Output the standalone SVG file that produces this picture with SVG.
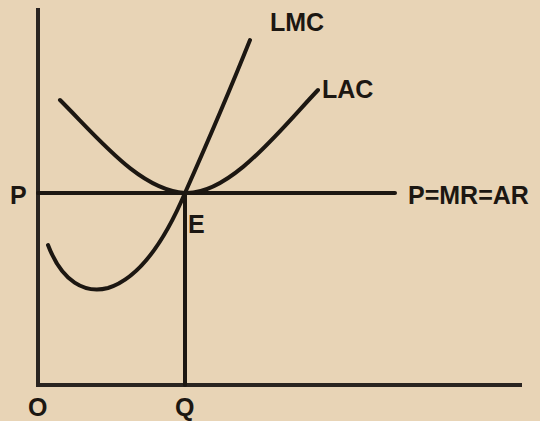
<svg xmlns="http://www.w3.org/2000/svg" width="540" height="421" viewBox="0 0 540 421">
<style>
.ln{fill:none;stroke:#1c1712;stroke-width:4;stroke-linecap:round}
.ax{fill:none;stroke:#2a2420;stroke-width:4}
.t{font-family:"Liberation Sans",Arial,sans-serif;font-weight:bold;font-size:25px;fill:#1c1712}
</style>
<rect width="540" height="421" fill="#e8d4b6"/>
<g id="connectors">
<path class="ax" d="M38,8 V385 H522"/>
<path class="ln" d="M38,193 H395"/>
<path class="ln" d="M185,193 V385"/>
</g>
<g id="LMC">
<path class="ln" d="M48,245 C62,282 85,294 108,288 C140,278 165,240 185,193 C205,148 228,95 250,40"/>
<text class="t" x="270" y="31">LMC</text>
</g>
<g id="LAC">
<path class="ln" d="M60,100 C100,140 140,190 185,193 C230,195 280,130 318,90"/>
<text class="t" x="322" y="98">LAC</text>
</g>
<g id="P"><text class="t" x="10" y="204">P</text></g>
<g id="PMRAR"><text class="t" x="408" y="204">P=MR=AR</text></g>
<g id="E"><text class="t" x="188" y="233">E</text></g>
<g id="O"><text class="t" x="28" y="416">O</text></g>
<g id="Q"><text class="t" x="175" y="416">Q</text></g>
</svg>
